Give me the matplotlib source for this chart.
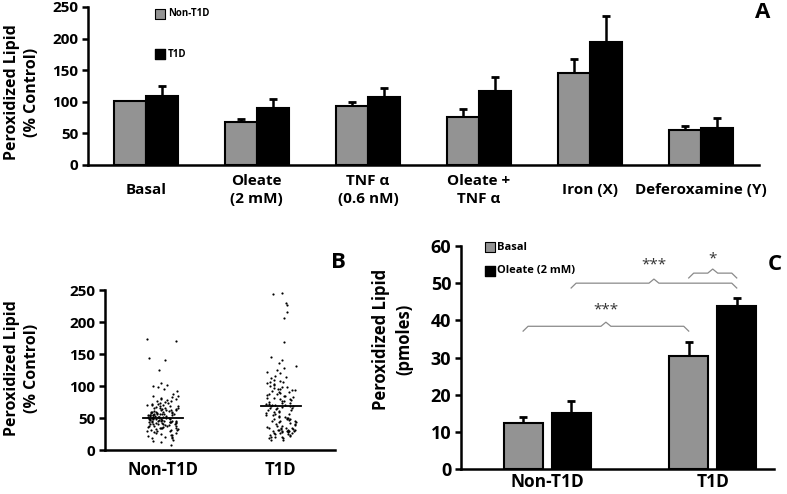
import numpy as np
import matplotlib
matplotlib.use("Agg")
from matplotlib import pyplot as plt

plt.rcParams['font.family'] = ['Open Sans', 'DejaVu Sans']
plt.rcParams['font.weight'] = 'bold'

# panel A data
conditions = ["Basal", "Oleate\n(2 mM)", "TNF \u03b1\n(0.6 nM)", "Oleate +\nTNF \u03b1",
              "Iron (X)", "Deferoxamine (Y)"]
a_non = [101, 68, 94, 76, 145, 55]
a_non_err = [0, 5, 5, 12, 23, 7]
a_t1d = [109, 90, 107, 117, 195, 58]
a_t1d_err = [16, 15, 15, 23, 40, 16]

# panel B data (individual donors)
b_groups = ["Non-T1D", "T1D"]
b_non = [174, 171, 143, 140, 125, 104, 102, 100, 98, 95, 92, 88, 85, 84, 83, 82, 80, 79,
         78, 77, 76, 75, 74, 73, 72, 72, 71, 70, 70, 69, 68, 68, 67, 66, 66, 65, 65, 64,
         64, 63, 63, 62, 62, 61, 61, 60, 60, 60, 59, 59, 58, 58, 58, 57, 57, 57, 56, 56,
         56, 55, 55, 55, 54, 54, 54, 53, 53, 53, 52, 52, 52, 51, 51, 51, 50, 50, 50, 50,
         49, 49, 49, 48, 48, 48, 47, 47, 47, 46, 46, 46, 45, 45, 45, 44, 44, 44, 43, 43,
         43, 42, 42, 42, 41, 41, 40, 40, 40, 39, 39, 38, 38, 37, 37, 36, 36, 35, 35, 34,
         34, 33, 33, 32, 32, 31, 30, 30, 29, 28, 27, 26, 25, 24, 23, 22, 21, 20, 19, 18,
         16, 14, 12, 8]
b_t1d = [245, 243, 230, 226, 216, 206, 168, 145, 140, 136, 132, 128, 125, 122, 120, 116,
         114, 112, 110, 108, 107, 106, 104, 103, 102, 100, 99, 98, 97, 96, 95, 94, 93, 92,
         91, 90, 89, 88, 87, 86, 85, 84, 83, 82, 81, 80, 79, 78, 77, 76, 75, 74, 73, 72,
         72, 71, 70, 70, 69, 68, 68, 67, 66, 65, 65, 64, 63, 62, 61, 60, 59, 58, 57, 56,
         55, 54, 53, 52, 51, 50, 50, 49, 48, 48, 47, 46, 45, 45, 44, 43, 42, 41, 40, 39,
         38, 37, 36, 35, 35, 34, 34, 33, 33, 32, 32, 31, 31, 30, 30, 30, 29, 29, 28, 28,
         27, 27, 26, 25, 25, 24, 23, 22, 21, 20, 20, 19, 18, 16, 15]
b_median = [50, 68]

# panel C data
c_groups = ["Non-T1D", "T1D"]
c_basal = [12.4, 30.4]
c_basal_err = [1.7, 3.7]
c_oleate = [15.0, 43.9]
c_oleate_err = [3.4, 2.1]

GRAY = "#939393"
SPINE_W = 1.8


def style_axes(ax, lsize):
    for s in ["top", "right"]:
        ax.spines[s].set_visible(False)
    for s in ["left", "bottom"]:
        ax.spines[s].set_linewidth(SPINE_W)
    ax.tick_params(axis="y", direction="out", length=4, width=SPINE_W, labelsize=lsize, pad=3)
    ax.tick_params(axis="x", length=0)


def brace(ax, x0, x1, y, label, lab_y):
    xm = (x0 + x1) / 2
    d = 0.03
    xs = [x0, x0 + d, xm - d, xm, xm + d, x1 - d, x1]
    ys = [y - 1.3, y, y, y + 1.1, y, y, y - 1.3]
    ax.plot(xs, ys, color="#8a8a8a", lw=0.9)
    ax.text(xm, lab_y, label, ha="center", va="center", fontsize=11, color="#333333",
            fontweight="normal")


fig = plt.figure(figsize=(7.87, 4.94), dpi=100)

# ---- panel A
axA = fig.add_axes([88 / 787, 1 - 165 / 494, 671 / 787, 158 / 494])
x = np.arange(len(conditions))
w = 0.29
axA.bar(x - w / 2, a_non, w, color=GRAY, edgecolor="black", linewidth=1.5, zorder=2)
axA.bar(x + w / 2, a_t1d, w, color="black", edgecolor="black", linewidth=1.5, zorder=2)
axA.errorbar(x - w / 2, a_non, yerr=[np.zeros(len(a_non)), a_non_err], fmt="none",
             ecolor="black", elinewidth=1.8, capsize=3, capthick=2, zorder=1)
axA.errorbar(x + w / 2, a_t1d, yerr=[np.zeros(len(a_t1d)), a_t1d_err], fmt="none",
             ecolor="black", elinewidth=1.8, capsize=3, capthick=2, zorder=1)
axA.set_xlim(-0.52, 5.52)
axA.set_ylim(0, 250)
axA.set_yticks([0, 50, 100, 150, 200, 250])
axA.set_xticks([])
style_axes(axA, 11)
for i, c in enumerate(conditions):
    axA.text(i, -0.158, c, transform=axA.get_xaxis_transform(), ha="center", va="center",
             fontsize=11, linespacing=1.3)
axA.scatter([0.107], [0.956], marker="s", s=45, color=GRAY, edgecolor="black",
            linewidth=0.8, transform=axA.transAxes, clip_on=False)
axA.text(0.119, 0.956, "Non-T1D", transform=axA.transAxes, va="center", fontsize=7)
axA.scatter([0.107], [0.70], marker="s", s=60, color="black",
            transform=axA.transAxes, clip_on=False)
axA.text(0.119, 0.70, "T1D", transform=axA.transAxes, va="center", fontsize=7)

# ---- panel B
axB = fig.add_axes([105 / 787, 1 - 450 / 494, 230 / 787, 160 / 494])
for gi, vals in enumerate([b_non, b_t1d]):
    n = len(vals)
    h = (np.sin(np.arange(n) * 12.9898 + gi) * 43758.5453) % 1
    jit = (h - 0.5) * 2 * 0.13
    axB.scatter(gi + jit, vals, s=2.5, color="black", linewidths=0)
    axB.plot([gi - 0.17, gi + 0.17], [b_median[gi]] * 2, color="black", lw=1.3)
axB.set_xlim(-0.49, 1.46)
axB.set_ylim(0, 250)
axB.set_yticks([0, 50, 100, 150, 200, 250])
axB.set_xticks([0, 1])
axB.set_xticklabels(b_groups, fontsize=12)
style_axes(axB, 11)
axB.tick_params(axis="x", pad=8)

# ---- panel C
axC = fig.add_axes([461 / 787, 1 - 469 / 494, 313 / 787, 223 / 494])
xc = np.arange(len(c_groups))
wc = 0.235
off = 0.145
axC.bar(xc - off, c_basal, wc, color=GRAY, edgecolor="black", linewidth=1.5, zorder=2)
axC.bar(xc + off, c_oleate, wc, color="black", edgecolor="black", linewidth=1.5, zorder=2)
axC.errorbar(xc - off, c_basal, yerr=[np.zeros(2), c_basal_err], fmt="none",
             ecolor="black", elinewidth=1.8, capsize=3, capthick=2, zorder=1)
axC.errorbar(xc + off, c_oleate, yerr=[np.zeros(2), c_oleate_err], fmt="none",
             ecolor="black", elinewidth=1.8, capsize=3, capthick=2, zorder=1)
axC.set_xlim(-0.52, 1.37)
axC.set_ylim(0, 60)
axC.set_yticks(range(0, 61, 10))
axC.set_xticks(xc)
axC.set_xticklabels(c_groups, fontsize=12.5)
style_axes(axC, 13)
axC.tick_params(axis="x", pad=3)
brace(axC, -off, 1 - off, 38.4, "***", 42.7)
brace(axC, off, 1 + off, 50.0, "***", 54.8)
brace(axC, 1 - off, 1 + off, 52.7, "*", 56.5)
axC.scatter([0.093], [0.995], marker="s", s=45, color=GRAY, edgecolor="black",
            linewidth=0.8, transform=axC.transAxes, clip_on=False)
axC.text(0.115, 0.995, "Basal", transform=axC.transAxes, va="center", fontsize=8)
axC.scatter([0.093], [0.888], marker="s", s=60, color="black",
            transform=axC.transAxes, clip_on=False)
axC.text(0.115, 0.888, "Oleate (2 mM)", transform=axC.transAxes, va="center", fontsize=8)

# axis titles and panel letters
fig.text(22 / 787, 1 - 92 / 494, "Peroxidized Lipid\n(% Control)", rotation=90,
         ha="center", va="center", fontsize=11.5, linespacing=1.4)
fig.text(22 / 787, 1 - 368 / 494, "Peroxidized Lipid\n(% Control)", rotation=90,
         ha="center", va="center", fontsize=11.5, linespacing=1.4)
fig.text(393 / 787, 1 - 339 / 494, "Peroxidized Lipid\n(pmoles)", rotation=90,
         ha="center", va="center", fontsize=12, linespacing=1.4)
fig.text(763 / 787, 1 - 12 / 494, "A", ha="center", va="center", fontsize=16)
fig.text(338 / 787, 1 - 262 / 494, "B", ha="center", va="center", fontsize=16)
fig.text(775 / 787, 1 - 265 / 494, "C", ha="center", va="center", fontsize=16)

fig.savefig("out.png", dpi=100)
